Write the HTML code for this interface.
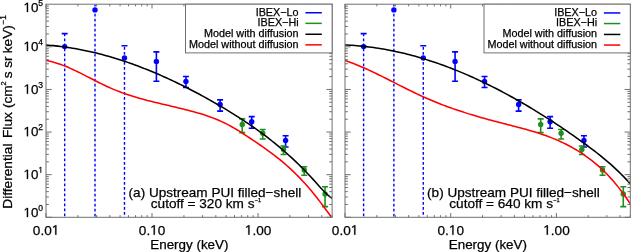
<!DOCTYPE html>
<html><head><meta charset="utf-8"><style>
html,body{margin:0;padding:0;background:#fff;}
svg{display:block;font-family:"Liberation Sans", sans-serif;will-change:transform;}
text{fill:#000;stroke:#000;stroke-width:0.25px;}
.one{fill:#000;stroke:#000;stroke-width:0.25px;vector-effect:non-scaling-stroke;}
</style></head><body>
<svg width="631" height="252" viewBox="0 0 631 252" xmlns="http://www.w3.org/2000/svg">
<clipPath id="clipa"><rect x="46" y="4.2" width="286.1" height="213.1"/></clipPath>
<g clip-path="url(#clipa)">
<line x1="64.67" y1="33.6" x2="64.67" y2="217.3" stroke="#0000ff" stroke-width="1.4" stroke-dasharray="2.7 2.3" stroke-dashoffset="0.1"/>
<line x1="61.67" y1="33.6" x2="67.67" y2="33.6" stroke="#0000ff" stroke-width="1.6"/>
<circle cx="64.67" cy="46.6" r="2.7" fill="#0000ff"/>
<line x1="95.02" y1="4.2" x2="95.02" y2="217.3" stroke="#0000ff" stroke-width="1.4" stroke-dasharray="2.7 2.3" stroke-dashoffset="0.5"/>
<circle cx="95.02" cy="9.9" r="2.7" fill="#0000ff"/>
<line x1="124.48" y1="45.8" x2="124.48" y2="217.3" stroke="#0000ff" stroke-width="1.4" stroke-dasharray="2.7 2.3" stroke-dashoffset="3.7"/>
<line x1="121.48" y1="45.8" x2="127.48" y2="45.8" stroke="#0000ff" stroke-width="1.6"/>
<circle cx="124.48" cy="58" r="2.7" fill="#0000ff"/>
<path d="M156.39 51.9V81.2M153.39 51.9H159.39M153.39 81.2H159.39" stroke="#0000ff" stroke-width="1.6" fill="none"/>
<circle cx="156.39" cy="61.4" r="2.7" fill="#0000ff"/>
<path d="M185.94 76.5V87.5M182.94 76.5H188.94M182.94 87.5H188.94" stroke="#0000ff" stroke-width="1.6" fill="none"/>
<circle cx="185.94" cy="81.4" r="2.7" fill="#0000ff"/>
<path d="M220.11 99.9V111.1M217.11 99.9H223.11M217.11 111.1H223.11" stroke="#0000ff" stroke-width="1.6" fill="none"/>
<circle cx="220.11" cy="104.5" r="2.7" fill="#0000ff"/>
<path d="M251.7 116.6V128.2M248.7 116.6H254.7M248.7 128.2H254.7" stroke="#0000ff" stroke-width="1.6" fill="none"/>
<circle cx="251.7" cy="121.8" r="2.7" fill="#0000ff"/>
<path d="M285.6 135.8V147M282.6 135.8H288.6M282.6 147H288.6" stroke="#0000ff" stroke-width="1.6" fill="none"/>
<circle cx="285.6" cy="140.4" r="2.7" fill="#0000ff"/>
<path d="M242.24 118.9V132.6M239.24 118.9H245.24M239.24 132.6H245.24" stroke="#1f8f1f" stroke-width="1.6" fill="none"/>
<circle cx="242.24" cy="124.5" r="2.7" fill="#1f8f1f"/>
<path d="M262.73 129.5V139M259.73 129.5H265.73M259.73 139H265.73" stroke="#1f8f1f" stroke-width="1.6" fill="none"/>
<circle cx="262.73" cy="133.3" r="2.7" fill="#1f8f1f"/>
<path d="M283.51 146V154.5M280.51 146H286.51M280.51 154.5H286.51" stroke="#1f8f1f" stroke-width="1.6" fill="none"/>
<circle cx="283.51" cy="149.5" r="2.7" fill="#1f8f1f"/>
<path d="M304.24 166.8V175.3M301.24 166.8H307.24M301.24 175.3H307.24" stroke="#1f8f1f" stroke-width="1.6" fill="none"/>
<circle cx="304.24" cy="170" r="2.7" fill="#1f8f1f"/>
<path d="M325.05 186.8V206.6M322.05 186.8H328.05M322.05 206.6H328.05" stroke="#1f8f1f" stroke-width="1.6" fill="none"/>
<circle cx="325.05" cy="194" r="2.7" fill="#1f8f1f"/>
<path d="M46 45.02 L48.4 45.2 L50.81 45.4 L53.21 45.62 L55.62 45.87 L58.02 46.13 L60.43 46.42 L62.83 46.72 L65.23 47.05 L67.64 47.4 L70.04 47.76 L72.45 48.15 L74.85 48.56 L77.25 48.99 L79.66 49.44 L82.06 49.9 L84.47 50.39 L86.87 50.9 L89.28 51.42 L91.68 51.97 L94.08 52.53 L96.49 53.11 L98.89 53.72 L101.3 54.34 L103.7 54.98 L106.11 55.64 L108.51 56.31 L110.91 57.01 L113.32 57.72 L115.72 58.45 L118.13 59.2 L120.53 59.97 L122.93 60.75 L125.34 61.56 L127.74 62.38 L130.15 63.21 L132.55 64.07 L134.96 64.94 L137.36 65.83 L139.76 66.73 L142.17 67.66 L144.57 68.6 L146.98 69.55 L149.38 70.53 L151.78 71.51 L154.19 72.52 L156.59 73.54 L159 74.58 L161.4 75.63 L163.81 76.7 L166.21 77.78 L168.61 78.88 L171.02 80 L173.42 81.13 L175.83 82.28 L178.23 83.44 L180.64 84.61 L183.04 85.8 L185.44 87.01 L187.85 88.23 L190.25 89.46 L192.66 90.71 L195.06 91.98 L197.46 93.25 L199.87 94.54 L202.27 95.85 L204.68 97.17 L207.08 98.5 L209.49 99.85 L211.89 101.21 L214.29 102.58 L216.7 103.97 L219.1 105.37 L221.51 106.78 L223.91 108.2 L226.32 109.64 L228.72 111.1 L231.12 112.57 L233.53 114.06 L235.93 115.57 L238.34 117.09 L240.74 118.64 L243.14 120.21 L245.55 121.8 L247.95 123.41 L250.36 125.04 L252.76 126.71 L255.17 128.39 L257.57 130.1 L259.97 131.85 L262.38 133.62 L264.78 135.41 L267.19 137.24 L269.59 139.11 L271.99 141 L274.4 142.93 L276.8 144.89 L279.21 146.89 L281.61 148.92 L284.02 150.99 L286.42 153.1 L288.82 155.25 L291.23 157.43 L293.63 159.66 L296.04 161.93 L298.44 164.25 L300.85 166.61 L303.25 169.02 L305.65 171.47 L308.06 173.98 L310.46 176.53 L312.87 179.14 L315.27 181.8 L317.67 184.49 L320.08 187.15 L322.48 189.74 L324.89 192.2 L327.29 194.49 L329.7 196.55 L332.1 198.33" stroke="#000" stroke-width="1.55" fill="none" stroke-linejoin="round"/>
<path d="M46.4 60.6 L48.8 61.05 L51.2 61.58 L53.6 62.19 L56 62.89 L58.4 63.65 L60.81 64.48 L63.21 65.37 L65.61 66.32 L68.01 67.32 L70.41 68.36 L72.81 69.45 L75.21 70.58 L77.61 71.73 L80.01 72.91 L82.41 74.12 L84.81 75.34 L87.21 76.57 L89.62 77.8 L92.02 79.04 L94.42 80.27 L96.82 81.5 L99.22 82.71 L101.62 83.9 L104.02 85.07 L106.42 86.2 L108.82 87.31 L111.22 88.37 L113.62 89.39 L116.02 90.38 L118.43 91.32 L120.83 92.23 L123.23 93.11 L125.63 93.96 L128.03 94.77 L130.43 95.56 L132.83 96.31 L135.23 97.05 L137.63 97.76 L140.03 98.44 L142.43 99.11 L144.83 99.76 L147.24 100.39 L149.64 101.01 L152.04 101.61 L154.44 102.2 L156.84 102.79 L159.24 103.36 L161.64 103.93 L164.04 104.49 L166.44 105.05 L168.84 105.61 L171.24 106.17 L173.64 106.74 L176.05 107.3 L178.45 107.88 L180.85 108.46 L183.25 109.05 L185.65 109.65 L188.05 110.26 L190.45 110.89 L192.85 111.54 L195.25 112.2 L197.65 112.89 L200.05 113.6 L202.45 114.34 L204.86 115.11 L207.26 115.92 L209.66 116.76 L212.06 117.64 L214.46 118.56 L216.86 119.53 L219.26 120.55 L221.66 121.62 L224.06 122.74 L226.46 123.92 L228.86 125.16 L231.26 126.46 L233.67 127.83 L236.07 129.24 L238.47 130.7 L240.87 132.21 L243.27 133.75 L245.67 135.31 L248.07 136.89 L250.47 138.49 L252.87 140.09 L255.27 141.71 L257.67 143.34 L260.07 144.99 L262.48 146.66 L264.88 148.36 L267.28 150.08 L269.68 151.83 L272.08 153.62 L274.48 155.45 L276.88 157.32 L279.28 159.23 L281.68 161.19 L284.08 163.21 L286.48 165.28 L288.88 167.41 L291.29 169.61 L293.69 171.87 L296.09 174.2 L298.49 176.61 L300.89 179.1 L303.29 181.66 L305.69 184.32 L308.09 187.06 L310.49 189.87 L312.89 192.76 L315.29 195.73 L317.69 198.76 L320.1 201.86 L322.5 205.01 L324.9 208.22 L327.3 211.48 L329.7 214.79 L332.1 218.14" stroke="#ff0000" stroke-width="1.55" fill="none" stroke-linejoin="round"/>
</g>
<path d="M46 217.3L46 213.04 M46 4.2L46 8.46 M77.91 217.3L77.91 215.17 M77.91 4.2L77.91 6.33 M96.58 217.3L96.58 215.17 M96.58 4.2L96.58 6.33 M109.82 217.3L109.82 215.17 M109.82 4.2L109.82 6.33 M120.09 217.3L120.09 215.17 M120.09 4.2L120.09 6.33 M128.49 217.3L128.49 215.17 M128.49 4.2L128.49 6.33 M135.58 217.3L135.58 215.17 M135.58 4.2L135.58 6.33 M141.73 217.3L141.73 215.17 M141.73 4.2L141.73 6.33 M147.15 217.3L147.15 215.17 M147.15 4.2L147.15 6.33 M152 217.3L152 213.04 M152 4.2L152 8.46 M183.91 217.3L183.91 215.17 M183.91 4.2L183.91 6.33 M202.58 217.3L202.58 215.17 M202.58 4.2L202.58 6.33 M215.82 217.3L215.82 215.17 M215.82 4.2L215.82 6.33 M226.1 217.3L226.1 215.17 M226.1 4.2L226.1 6.33 M234.49 217.3L234.49 215.17 M234.49 4.2L234.49 6.33 M241.59 217.3L241.59 215.17 M241.59 4.2L241.59 6.33 M247.73 217.3L247.73 215.17 M247.73 4.2L247.73 6.33 M253.16 217.3L253.16 215.17 M253.16 4.2L253.16 6.33 M258.01 217.3L258.01 213.04 M258.01 4.2L258.01 8.46 M289.92 217.3L289.92 215.17 M289.92 4.2L289.92 6.33 M308.58 217.3L308.58 215.17 M308.58 4.2L308.58 6.33 M321.83 217.3L321.83 215.17 M321.83 4.2L321.83 6.33 M332.1 217.3L332.1 215.17 M332.1 4.2L332.1 6.33 M46 217.3L51.72 217.3 M332.1 217.3L326.38 217.3 M46 204.47L48.86 204.47 M332.1 204.47L329.24 204.47 M46 196.97L48.86 196.97 M332.1 196.97L329.24 196.97 M46 191.64L48.86 191.64 M332.1 191.64L329.24 191.64 M46 187.51L48.86 187.51 M332.1 187.51L329.24 187.51 M46 184.14L48.86 184.14 M332.1 184.14L329.24 184.14 M46 181.28L48.86 181.28 M332.1 181.28L329.24 181.28 M46 178.81L48.86 178.81 M332.1 178.81L329.24 178.81 M46 176.63L48.86 176.63 M332.1 176.63L329.24 176.63 M46 174.68L51.72 174.68 M332.1 174.68L326.38 174.68 M46 161.85L48.86 161.85 M332.1 161.85L329.24 161.85 M46 154.35L48.86 154.35 M332.1 154.35L329.24 154.35 M46 149.02L48.86 149.02 M332.1 149.02L329.24 149.02 M46 144.89L48.86 144.89 M332.1 144.89L329.24 144.89 M46 141.52L48.86 141.52 M332.1 141.52L329.24 141.52 M46 138.66L48.86 138.66 M332.1 138.66L329.24 138.66 M46 136.19L48.86 136.19 M332.1 136.19L329.24 136.19 M46 134.01L48.86 134.01 M332.1 134.01L329.24 134.01 M46 132.06L51.72 132.06 M332.1 132.06L326.38 132.06 M46 119.23L48.86 119.23 M332.1 119.23L329.24 119.23 M46 111.73L48.86 111.73 M332.1 111.73L329.24 111.73 M46 106.4L48.86 106.4 M332.1 106.4L329.24 106.4 M46 102.27L48.86 102.27 M332.1 102.27L329.24 102.27 M46 98.9L48.86 98.9 M332.1 98.9L329.24 98.9 M46 96.04L48.86 96.04 M332.1 96.04L329.24 96.04 M46 93.57L48.86 93.57 M332.1 93.57L329.24 93.57 M46 91.39L48.86 91.39 M332.1 91.39L329.24 91.39 M46 89.44L51.72 89.44 M332.1 89.44L326.38 89.44 M46 76.61L48.86 76.61 M332.1 76.61L329.24 76.61 M46 69.11L48.86 69.11 M332.1 69.11L329.24 69.11 M46 63.78L48.86 63.78 M332.1 63.78L329.24 63.78 M46 59.65L48.86 59.65 M332.1 59.65L329.24 59.65 M46 56.28L48.86 56.28 M332.1 56.28L329.24 56.28 M46 53.42L48.86 53.42 M332.1 53.42L329.24 53.42 M46 50.95L48.86 50.95 M332.1 50.95L329.24 50.95 M46 48.77L48.86 48.77 M332.1 48.77L329.24 48.77 M46 46.82L51.72 46.82 M332.1 46.82L326.38 46.82 M46 33.99L48.86 33.99 M332.1 33.99L329.24 33.99 M46 26.49L48.86 26.49 M332.1 26.49L329.24 26.49 M46 21.16L48.86 21.16 M332.1 21.16L329.24 21.16 M46 17.03L48.86 17.03 M332.1 17.03L329.24 17.03 M46 13.66L48.86 13.66 M332.1 13.66L329.24 13.66 M46 10.8L48.86 10.8 M332.1 10.8L329.24 10.8 M46 8.33L48.86 8.33 M332.1 8.33L329.24 8.33 M46 6.15L48.86 6.15 M332.1 6.15L329.24 6.15" stroke="#707070" stroke-width="1.0" fill="none"/>
<rect x="46" y="4.2" width="286.1" height="213.1" stroke="#707070" stroke-width="1.0" fill="none"/>
<rect x="185.5" y="4.2" width="146.6" height="48.7" fill="#fff" stroke="#707070" stroke-width="1.0"/>
<text x="298.6" y="15.5" text-anchor="end" font-size="10.8">IBEX−Lo</text>
<line x1="305.4" y1="12.75" x2="321.8" y2="12.75" stroke="#0000ff" stroke-width="1.5"/>
<text x="298.6" y="26.1" text-anchor="end" font-size="10.8">IBEX−Hi</text>
<line x1="305.4" y1="23.35" x2="321.8" y2="23.35" stroke="#1f8f1f" stroke-width="1.5"/>
<text x="298.6" y="37" text-anchor="end" font-size="10.8">Model with diffusion</text>
<line x1="305.4" y1="34.25" x2="321.8" y2="34.25" stroke="#000" stroke-width="1.5"/>
<text x="298.6" y="47.6" text-anchor="end" font-size="10.8">Model without diffusion</text>
<line x1="305.4" y1="44.85" x2="321.8" y2="44.85" stroke="#ff0000" stroke-width="1.5"/>
<text x="23.5" y="12" font-size="13.4"> 0</text>
<path transform="translate(23.50,12.00) scale(0.006543,-0.006543)" d="M515 0L515 1237L197 1010L197 1180L530 1409L696 1409L696 0Z" class="one"/>
<text x="38.3" y="5.9" font-size="8.5">5</text>
<text x="23.5" y="51" font-size="13.4"> 0</text>
<path transform="translate(23.50,51.00) scale(0.006543,-0.006543)" d="M515 0L515 1237L197 1010L197 1180L530 1409L696 1409L696 0Z" class="one"/>
<text x="38.3" y="44.9" font-size="8.5">4</text>
<text x="23.5" y="93.7" font-size="13.4"> 0</text>
<path transform="translate(23.50,93.70) scale(0.006543,-0.006543)" d="M515 0L515 1237L197 1010L197 1180L530 1409L696 1409L696 0Z" class="one"/>
<text x="38.3" y="87.6" font-size="8.5">3</text>
<text x="23.5" y="136.3" font-size="13.4"> 0</text>
<path transform="translate(23.50,136.30) scale(0.006543,-0.006543)" d="M515 0L515 1237L197 1010L197 1180L530 1409L696 1409L696 0Z" class="one"/>
<text x="38.3" y="130.2" font-size="8.5">2</text>
<text x="23.5" y="178.9" font-size="13.4"> 0</text>
<path transform="translate(23.50,178.90) scale(0.006543,-0.006543)" d="M515 0L515 1237L197 1010L197 1180L530 1409L696 1409L696 0Z" class="one"/>
<text x="38.3" y="172.8" font-size="8.5"> </text>
<path transform="translate(38.30,172.80) scale(0.004150,-0.004150)" d="M515 0L515 1237L197 1010L197 1180L530 1409L696 1409L696 0Z" class="one"/>
<text x="23.5" y="217.1" font-size="13.4"> 0</text>
<path transform="translate(23.50,217.10) scale(0.006543,-0.006543)" d="M515 0L515 1237L197 1010L197 1180L530 1409L696 1409L696 0Z" class="one"/>
<text x="38.3" y="211" font-size="8.5">0</text>
<text transform="translate(12.4,176.1) rotate(-90)" text-anchor="middle" font-size="13.7">Differential</text>
<text transform="translate(12.4,125.1) rotate(-90)" text-anchor="middle" font-size="13.7">Flux</text>
<text transform="translate(12.4,96.65) rotate(-90)" text-anchor="middle" font-size="13.7">(cm</text>
<text transform="translate(6.1,83.4) rotate(-90)" text-anchor="middle" font-size="7.4">2</text>
<text transform="translate(12.4,74.9) rotate(-90)" text-anchor="middle" font-size="13.7">s</text>
<text transform="translate(12.4,62.1) rotate(-90)" text-anchor="middle" font-size="13.7">sr</text>
<text transform="translate(12.4,39.2) rotate(-90)" text-anchor="middle" font-size="13.7">keV)</text>
<text transform="translate(5.8,19.9) rotate(-90)" text-anchor="middle" font-size="8.2">−1</text>
<text x="32.87" y="234.7" font-size="13.6">0.0 </text>
<path transform="translate(51.77,234.70) scale(0.006641,-0.006641)" d="M515 0L515 1237L197 1010L197 1180L530 1409L696 1409L696 0Z" class="one"/>
<text x="138.87" y="234.7" font-size="13.6">0. 0</text>
<path transform="translate(150.21,234.70) scale(0.006641,-0.006641)" d="M515 0L515 1237L197 1010L197 1180L530 1409L696 1409L696 0Z" class="one"/>
<text x="244.87" y="234.7" font-size="13.6"> .00</text>
<path transform="translate(244.87,234.70) scale(0.006641,-0.006641)" d="M515 0L515 1237L197 1010L197 1180L530 1409L696 1409L696 0Z" class="one"/>
<text x="150.3" y="248.5" font-size="13.4">Energy (keV)</text>
<text x="128.6" y="196.6" font-size="13.55">(a) Upstream PUI filled−shell</text>
<text x="150.8" y="208.2" font-size="13.6">cutoff = 320 km s<tspan font-size="5.6" dx="0.2" dy="-6.1">−1</tspan></text>
<clipPath id="clipb"><rect x="345" y="4.2" width="285.3" height="213.1"/></clipPath>
<g clip-path="url(#clipb)">
<line x1="363.61" y1="33.6" x2="363.61" y2="217.3" stroke="#0000ff" stroke-width="1.4" stroke-dasharray="2.7 2.3" stroke-dashoffset="0.1"/>
<line x1="360.61" y1="33.6" x2="366.61" y2="33.6" stroke="#0000ff" stroke-width="1.6"/>
<circle cx="363.61" cy="46.6" r="2.7" fill="#0000ff"/>
<line x1="393.88" y1="4.2" x2="393.88" y2="217.3" stroke="#0000ff" stroke-width="1.4" stroke-dasharray="2.7 2.3" stroke-dashoffset="0.5"/>
<circle cx="393.88" cy="9.9" r="2.7" fill="#0000ff"/>
<line x1="423.26" y1="45.8" x2="423.26" y2="217.3" stroke="#0000ff" stroke-width="1.4" stroke-dasharray="2.7 2.3" stroke-dashoffset="3.7"/>
<line x1="420.26" y1="45.8" x2="426.26" y2="45.8" stroke="#0000ff" stroke-width="1.6"/>
<circle cx="423.26" cy="58" r="2.7" fill="#0000ff"/>
<path d="M455.08 51.9V81.2M452.08 51.9H458.08M452.08 81.2H458.08" stroke="#0000ff" stroke-width="1.6" fill="none"/>
<circle cx="455.08" cy="61.4" r="2.7" fill="#0000ff"/>
<path d="M484.55 76.5V87.5M481.55 76.5H487.55M481.55 87.5H487.55" stroke="#0000ff" stroke-width="1.6" fill="none"/>
<circle cx="484.55" cy="81.4" r="2.7" fill="#0000ff"/>
<path d="M518.62 99.9V111.1M515.62 99.9H521.62M515.62 111.1H521.62" stroke="#0000ff" stroke-width="1.6" fill="none"/>
<circle cx="518.62" cy="104.5" r="2.7" fill="#0000ff"/>
<path d="M550.13 116.6V128.2M547.13 116.6H553.13M547.13 128.2H553.13" stroke="#0000ff" stroke-width="1.6" fill="none"/>
<circle cx="550.13" cy="121.8" r="2.7" fill="#0000ff"/>
<path d="M583.93 135.8V147M580.93 135.8H586.93M580.93 147H586.93" stroke="#0000ff" stroke-width="1.6" fill="none"/>
<circle cx="583.93" cy="140.4" r="2.7" fill="#0000ff"/>
<path d="M540.69 118.9V132.6M537.69 118.9H543.69M537.69 132.6H543.69" stroke="#1f8f1f" stroke-width="1.6" fill="none"/>
<circle cx="540.69" cy="124.5" r="2.7" fill="#1f8f1f"/>
<path d="M561.12 129.5V139M558.12 129.5H564.12M558.12 139H564.12" stroke="#1f8f1f" stroke-width="1.6" fill="none"/>
<circle cx="561.12" cy="133.3" r="2.7" fill="#1f8f1f"/>
<path d="M581.84 146V154.5M578.84 146H584.84M578.84 154.5H584.84" stroke="#1f8f1f" stroke-width="1.6" fill="none"/>
<circle cx="581.84" cy="149.5" r="2.7" fill="#1f8f1f"/>
<path d="M602.52 166.8V175.3M599.52 166.8H605.52M599.52 175.3H605.52" stroke="#1f8f1f" stroke-width="1.6" fill="none"/>
<circle cx="602.52" cy="170" r="2.7" fill="#1f8f1f"/>
<path d="M623.27 186.8V206.6M620.27 186.8H626.27M620.27 206.6H626.27" stroke="#1f8f1f" stroke-width="1.6" fill="none"/>
<circle cx="623.27" cy="194" r="2.7" fill="#1f8f1f"/>
<path d="M345 44.98 L347.4 45.09 L349.79 45.21 L352.19 45.35 L354.59 45.51 L356.99 45.7 L359.38 45.9 L361.78 46.13 L364.18 46.38 L366.58 46.64 L368.97 46.93 L371.37 47.24 L373.77 47.56 L376.17 47.91 L378.56 48.27 L380.96 48.66 L383.36 49.07 L385.76 49.49 L388.15 49.94 L390.55 50.4 L392.95 50.88 L395.35 51.39 L397.74 51.91 L400.14 52.45 L402.54 53.01 L404.94 53.59 L407.33 54.19 L409.73 54.8 L412.13 55.44 L414.53 56.09 L416.92 56.76 L419.32 57.45 L421.72 58.16 L424.12 58.88 L426.51 59.62 L428.91 60.39 L431.31 61.16 L433.71 61.96 L436.1 62.78 L438.5 63.61 L440.9 64.46 L443.3 65.32 L445.69 66.21 L448.09 67.11 L450.49 68.02 L452.89 68.96 L455.28 69.91 L457.68 70.88 L460.08 71.86 L462.48 72.86 L464.87 73.88 L467.27 74.91 L469.67 75.96 L472.07 77.03 L474.46 78.11 L476.86 79.21 L479.26 80.33 L481.66 81.46 L484.05 82.6 L486.45 83.76 L488.85 84.94 L491.25 86.13 L493.64 87.34 L496.04 88.56 L498.44 89.8 L500.84 91.05 L503.23 92.32 L505.63 93.6 L508.03 94.9 L510.43 96.21 L512.82 97.53 L515.22 98.87 L517.62 100.23 L520.02 101.6 L522.41 102.98 L524.81 104.38 L527.21 105.79 L529.61 107.22 L532 108.65 L534.4 110.11 L536.8 111.57 L539.2 113.05 L541.59 114.55 L543.99 116.05 L546.39 117.57 L548.79 119.11 L551.18 120.66 L553.58 122.22 L555.98 123.79 L558.38 125.38 L560.77 126.98 L563.17 128.6 L565.57 130.23 L567.97 131.87 L570.36 133.53 L572.76 135.2 L575.16 136.88 L577.56 138.58 L579.95 140.29 L582.35 142.01 L584.75 143.75 L587.15 145.5 L589.54 147.28 L591.94 149.08 L594.34 150.9 L596.74 152.75 L599.13 154.64 L601.53 156.57 L603.93 158.53 L606.33 160.54 L608.72 162.6 L611.12 164.7 L613.52 166.87 L615.92 169.09 L618.31 171.37 L620.71 173.72 L623.11 176.13 L625.51 178.62 L627.9 181.18 L630.3 183.83" stroke="#000" stroke-width="1.55" fill="none" stroke-linejoin="round"/>
<path d="M345 60.53 L347.4 61.34 L349.79 62.19 L352.19 63.07 L354.59 63.99 L356.99 64.94 L359.38 65.93 L361.78 66.94 L364.18 67.99 L366.58 69.05 L368.97 70.15 L371.37 71.26 L373.77 72.39 L376.17 73.54 L378.56 74.71 L380.96 75.89 L383.36 77.08 L385.76 78.28 L388.15 79.49 L390.55 80.7 L392.95 81.92 L395.35 83.14 L397.74 84.36 L400.14 85.58 L402.54 86.79 L404.94 88 L407.33 89.2 L409.73 90.39 L412.13 91.57 L414.53 92.73 L416.92 93.88 L419.32 95.01 L421.72 96.11 L424.12 97.2 L426.51 98.26 L428.91 99.31 L431.31 100.33 L433.71 101.33 L436.1 102.3 L438.5 103.26 L440.9 104.2 L443.3 105.12 L445.69 106.02 L448.09 106.9 L450.49 107.77 L452.89 108.62 L455.28 109.45 L457.68 110.26 L460.08 111.06 L462.48 111.85 L464.87 112.62 L467.27 113.38 L469.67 114.13 L472.07 114.86 L474.46 115.58 L476.86 116.29 L479.26 116.99 L481.66 117.68 L484.05 118.35 L486.45 119.02 L488.85 119.68 L491.25 120.34 L493.64 120.98 L496.04 121.62 L498.44 122.25 L500.84 122.87 L503.23 123.49 L505.63 124.11 L508.03 124.72 L510.43 125.33 L512.82 125.94 L515.22 126.56 L517.62 127.18 L520.02 127.81 L522.41 128.45 L524.81 129.1 L527.21 129.76 L529.61 130.44 L532 131.14 L534.4 131.86 L536.8 132.61 L539.2 133.37 L541.59 134.16 L543.99 134.99 L546.39 135.84 L548.79 136.72 L551.18 137.64 L553.58 138.6 L555.98 139.59 L558.38 140.63 L560.77 141.71 L563.17 142.83 L565.57 144 L567.97 145.23 L570.36 146.5 L572.76 147.82 L575.16 149.21 L577.56 150.65 L579.95 152.15 L582.35 153.71 L584.75 155.33 L587.15 157.03 L589.54 158.79 L591.94 160.63 L594.34 162.55 L596.74 164.56 L599.13 166.66 L601.53 168.84 L603.93 171.13 L606.33 173.52 L608.72 176.01 L611.12 178.62 L613.52 181.33 L615.92 184.17 L618.31 187.13 L620.71 190.22 L623.11 193.44 L625.51 196.79 L627.9 200.29 L630.3 203.92" stroke="#ff0000" stroke-width="1.55" fill="none" stroke-linejoin="round"/>
</g>
<path d="M345 217.3L345 213.04 M345 4.2L345 8.46 M376.82 217.3L376.82 215.17 M376.82 4.2L376.82 6.33 M395.44 217.3L395.44 215.17 M395.44 4.2L395.44 6.33 M408.64 217.3L408.64 215.17 M408.64 4.2L408.64 6.33 M418.89 217.3L418.89 215.17 M418.89 4.2L418.89 6.33 M427.26 217.3L427.26 215.17 M427.26 4.2L427.26 6.33 M434.33 217.3L434.33 215.17 M434.33 4.2L434.33 6.33 M440.46 217.3L440.46 215.17 M440.46 4.2L440.46 6.33 M445.87 217.3L445.87 215.17 M445.87 4.2L445.87 6.33 M450.71 217.3L450.71 213.04 M450.71 4.2L450.71 8.46 M482.53 217.3L482.53 215.17 M482.53 4.2L482.53 6.33 M501.14 217.3L501.14 215.17 M501.14 4.2L501.14 6.33 M514.35 217.3L514.35 215.17 M514.35 4.2L514.35 6.33 M524.59 217.3L524.59 215.17 M524.59 4.2L524.59 6.33 M532.96 217.3L532.96 215.17 M532.96 4.2L532.96 6.33 M540.04 217.3L540.04 215.17 M540.04 4.2L540.04 6.33 M546.17 217.3L546.17 215.17 M546.17 4.2L546.17 6.33 M551.58 217.3L551.58 215.17 M551.58 4.2L551.58 6.33 M556.41 217.3L556.41 213.04 M556.41 4.2L556.41 8.46 M588.23 217.3L588.23 215.17 M588.23 4.2L588.23 6.33 M606.85 217.3L606.85 215.17 M606.85 4.2L606.85 6.33 M620.06 217.3L620.06 215.17 M620.06 4.2L620.06 6.33 M630.3 217.3L630.3 215.17 M630.3 4.2L630.3 6.33 M345 217.3L350.71 217.3 M630.3 217.3L624.59 217.3 M345 204.47L347.85 204.47 M630.3 204.47L627.45 204.47 M345 196.97L347.85 196.97 M630.3 196.97L627.45 196.97 M345 191.64L347.85 191.64 M630.3 191.64L627.45 191.64 M345 187.51L347.85 187.51 M630.3 187.51L627.45 187.51 M345 184.14L347.85 184.14 M630.3 184.14L627.45 184.14 M345 181.28L347.85 181.28 M630.3 181.28L627.45 181.28 M345 178.81L347.85 178.81 M630.3 178.81L627.45 178.81 M345 176.63L347.85 176.63 M630.3 176.63L627.45 176.63 M345 174.68L350.71 174.68 M630.3 174.68L624.59 174.68 M345 161.85L347.85 161.85 M630.3 161.85L627.45 161.85 M345 154.35L347.85 154.35 M630.3 154.35L627.45 154.35 M345 149.02L347.85 149.02 M630.3 149.02L627.45 149.02 M345 144.89L347.85 144.89 M630.3 144.89L627.45 144.89 M345 141.52L347.85 141.52 M630.3 141.52L627.45 141.52 M345 138.66L347.85 138.66 M630.3 138.66L627.45 138.66 M345 136.19L347.85 136.19 M630.3 136.19L627.45 136.19 M345 134.01L347.85 134.01 M630.3 134.01L627.45 134.01 M345 132.06L350.71 132.06 M630.3 132.06L624.59 132.06 M345 119.23L347.85 119.23 M630.3 119.23L627.45 119.23 M345 111.73L347.85 111.73 M630.3 111.73L627.45 111.73 M345 106.4L347.85 106.4 M630.3 106.4L627.45 106.4 M345 102.27L347.85 102.27 M630.3 102.27L627.45 102.27 M345 98.9L347.85 98.9 M630.3 98.9L627.45 98.9 M345 96.04L347.85 96.04 M630.3 96.04L627.45 96.04 M345 93.57L347.85 93.57 M630.3 93.57L627.45 93.57 M345 91.39L347.85 91.39 M630.3 91.39L627.45 91.39 M345 89.44L350.71 89.44 M630.3 89.44L624.59 89.44 M345 76.61L347.85 76.61 M630.3 76.61L627.45 76.61 M345 69.11L347.85 69.11 M630.3 69.11L627.45 69.11 M345 63.78L347.85 63.78 M630.3 63.78L627.45 63.78 M345 59.65L347.85 59.65 M630.3 59.65L627.45 59.65 M345 56.28L347.85 56.28 M630.3 56.28L627.45 56.28 M345 53.42L347.85 53.42 M630.3 53.42L627.45 53.42 M345 50.95L347.85 50.95 M630.3 50.95L627.45 50.95 M345 48.77L347.85 48.77 M630.3 48.77L627.45 48.77 M345 46.82L350.71 46.82 M630.3 46.82L624.59 46.82 M345 33.99L347.85 33.99 M630.3 33.99L627.45 33.99 M345 26.49L347.85 26.49 M630.3 26.49L627.45 26.49 M345 21.16L347.85 21.16 M630.3 21.16L627.45 21.16 M345 17.03L347.85 17.03 M630.3 17.03L627.45 17.03 M345 13.66L347.85 13.66 M630.3 13.66L627.45 13.66 M345 10.8L347.85 10.8 M630.3 10.8L627.45 10.8 M345 8.33L347.85 8.33 M630.3 8.33L627.45 8.33 M345 6.15L347.85 6.15 M630.3 6.15L627.45 6.15" stroke="#707070" stroke-width="1.0" fill="none"/>
<rect x="345" y="4.2" width="285.3" height="213.1" stroke="#707070" stroke-width="1.0" fill="none"/>
<rect x="484" y="4.2" width="146.3" height="48.7" fill="#fff" stroke="#707070" stroke-width="1.0"/>
<text x="597.1" y="15.7" text-anchor="end" font-size="10.8">IBEX−Lo</text>
<line x1="603.9" y1="12.95" x2="620.3" y2="12.95" stroke="#0000ff" stroke-width="1.5"/>
<text x="597.1" y="26.3" text-anchor="end" font-size="10.8">IBEX−Hi</text>
<line x1="603.9" y1="23.55" x2="620.3" y2="23.55" stroke="#1f8f1f" stroke-width="1.5"/>
<text x="597.1" y="37.2" text-anchor="end" font-size="10.8">Model with diffusion</text>
<line x1="603.9" y1="34.45" x2="620.3" y2="34.45" stroke="#000" stroke-width="1.5"/>
<text x="597.1" y="47.8" text-anchor="end" font-size="10.8">Model without diffusion</text>
<line x1="603.9" y1="45.05" x2="620.3" y2="45.05" stroke="#ff0000" stroke-width="1.5"/>
<text x="331.87" y="234.7" font-size="13.6">0.0 </text>
<path transform="translate(350.77,234.70) scale(0.006641,-0.006641)" d="M515 0L515 1237L197 1010L197 1180L530 1409L696 1409L696 0Z" class="one"/>
<text x="437.57" y="234.7" font-size="13.6">0. 0</text>
<path transform="translate(448.91,234.70) scale(0.006641,-0.006641)" d="M515 0L515 1237L197 1010L197 1180L530 1409L696 1409L696 0Z" class="one"/>
<text x="543.28" y="234.7" font-size="13.6"> .00</text>
<path transform="translate(543.28,234.70) scale(0.006641,-0.006641)" d="M515 0L515 1237L197 1010L197 1180L530 1409L696 1409L696 0Z" class="one"/>
<text x="448.8" y="248.5" font-size="13.4">Energy (keV)</text>
<text x="427.1" y="196.6" font-size="13.55">(b) Upstream PUI filled−shell</text>
<text x="449.3" y="208.2" font-size="13.6">cutoff = 640 km s<tspan font-size="5.6" dx="0.2" dy="-6.1">−1</tspan></text>
</svg>
</body></html>
